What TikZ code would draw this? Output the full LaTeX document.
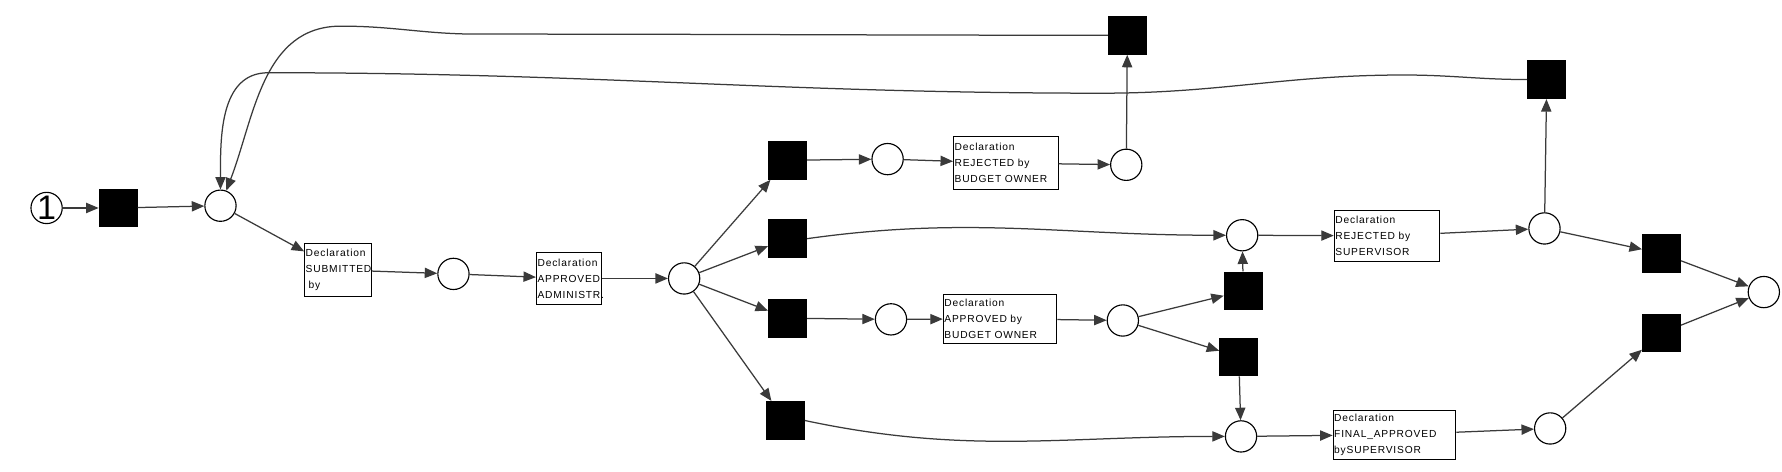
\documentclass[tikz,border=0pt]{standalone}
\usepackage{fontspec}
\setmainfont{Liberation Sans}
\newfontfamily\taskfont[LetterSpace=8]{Liberation Sans}
\usetikzlibrary{arrows.meta}
\definecolor{edge}{HTML}{3A3A3A}
\tikzset{
  place/.style={circle, draw=black, fill=white, line width=1pt, minimum size=27.5pt, inner sep=0pt},
  trans/.style={rectangle, fill=black, minimum width=34pt, minimum height=34pt, inner sep=0pt},
  task/.style={rectangle, draw=black, fill=white, line width=0.8pt, inner xsep=1pt, inner ysep=0pt,
    align=left, font=\taskfont\fontsize{9}{14}\selectfont},
  arc/.style={draw=edge, line width=1.1pt, -{Triangle[length=11pt,width=9pt]}},
}
\begin{document}
\begin{tikzpicture}[x=1pt,y=-1pt]
\useasboundingbox (0,0) rectangle (1568,414.5);

% places and transitions
\node[place, label={[font=\fontsize{30}{30}\selectfont, inner sep=0pt]center:1}] (start) at (41,183) {};
\node[trans] (t0) at (104,183) {};
\node[place] (p1) at (194,181) {};
\node[task, text width=57pt, minimum height=47pt] (sub) at (297.5,237.5) {Declaration\\SUBMITTED\\\hspace*{2.5pt}by};
\node[place] (p2) at (399,241) {};
\node[task, text width=55pt, minimum height=46pt] (adm) at (500.5,245) {Declaration\\APPROVED\\ADMINISTR.};
\node[place] (p3) at (602,245) {};

\node[trans] (ta) at (693,141) {};
\node[trans] (tb) at (693,210) {};
\node[trans] (tc) at (693,280) {};
\node[trans] (td) at (691,370) {};

\node[place] (p4) at (781,140) {};
\node[task, text width=90pt, minimum height=47pt] (rbo) at (885,143.5) {Declaration\\REJECTED by\\BUDGET OWNER};
\node[place] (p5) at (991,145) {};
\node[trans] (tt) at (992,31) {};

\node[place] (p6) at (784,281) {};
\node[task, text width=98pt, minimum height=43pt] (abo) at (880,280.5) {Declaration\\APPROVED by\\BUDGET OWNER};
\node[place] (p7) at (988,282) {};
\node[trans] (tx) at (1094,256) {};
\node[trans] (ty) at (1090,314) {};

\node[place] (p8) at (1093,207) {};
\node[task, text width=91pt, minimum height=45pt] (rsv) at (1220.5,207.5) {Declaration\\REJECTED by\\SUPERVISOR};
\node[place] (p9) at (1359,201) {};
\node[trans] (tr) at (1361,70) {};

\node[place] (p10) at (1092,384) {};
\node[task, text width=106pt, minimum height=43pt] (fas) at (1227,382.5) {Declaration\\FINAL\_APPROVED\\bySUPERVISOR};
\node[place] (p11) at (1364,377) {};

\node[trans] (t1) at (1462,223) {};
\node[trans] (t2) at (1462,293) {};
\node[place] (pend) at (1552,257) {};

% arcs
\draw[arc] (start) -- (t0);
\draw[arc] (t0) -- (p1);
\draw[arc] (p1) -- (sub);
\draw[arc] (sub) -- (p2);
\draw[arc] (p2) -- (adm);
\draw[arc] (adm) -- (p3);
\foreach \t in {ta,tb,tc,td}
  \draw[arc] (p3) -- (\t);
\draw[arc] (ta) -- (p4);
\draw[arc] (p4) -- (rbo);
\draw[arc] (rbo) -- (p5);
\draw[arc] (p5) -- (tt);
\draw[arc] (tc) -- (p6);
\draw[arc] (p6) -- (abo);
\draw[arc] (abo) -- (p7);
\draw[arc] (p7) -- (tx);
\draw[arc] (p7) -- (ty);
\draw[arc] (tx) -- (p8);
\draw[arc] (ty) -- (p10);
\draw[arc] (tb.east) to[out=8,in=180] (p8.west);
\draw[arc] (td.east) to[out=-12,in=180] (p10.west);
\draw[arc] (p8) -- (rsv);
\draw[arc] (rsv) -- (p9);
\draw[arc] (p9) -- (tr);
\draw[arc] (p9) -- (t1);
\draw[arc] (p10) -- (fas);
\draw[arc] (fas) -- (p11);
\draw[arc] (p11) -- (t2);
\draw[arc] (t1) -- (pend);
\draw[arc] (t2) -- (pend);

% loops back to p1
\draw[arc] (tt.west) to[out=180,in=0] (420,30) to[out=180,in=0] (300,23)
  to[out=180,in=69] (p1.69);
\draw[arc] (tr.west) to[out=180,in=0] (1235,66) to[out=180,in=0] (970,82)
  to[out=180,in=0] (236,64) to[out=180,in=90] (p1.north);
\end{tikzpicture}
\end{document}
